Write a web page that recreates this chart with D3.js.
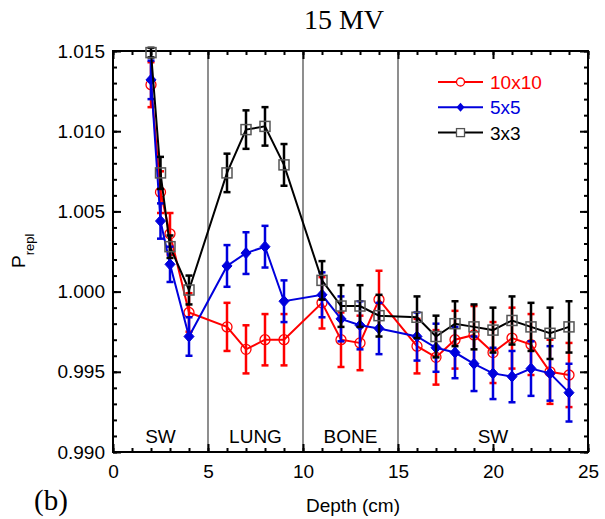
<!DOCTYPE html>
<html><head><meta charset="utf-8">
<script src="https://cdn.jsdelivr.net/npm/d3@7"></script>
<style>body{margin:0;background:#fff}svg{display:block}</style>
</head><body>
<script>
const depth = [2,2.5,3,4,6,7,8,9,11,12,13,14,16,17,18,19,20,21,22,23,24];
const p10 = [1.0129,1.0062,1.0036,0.9987,0.9978,0.9964,0.9970,0.9970,0.9993,0.9970,0.9968,0.9995,0.9966,0.9959,0.9970,0.9973,0.9962,0.9971,0.9967,0.9950,0.9948];
const e10 = [0.0014,0.0013,0.0013,0.0012,0.0015,0.0015,0.0016,0.0016,0.0016,0.0017,0.0017,0.0018,0.0017,0.0017,0.0018,0.0018,0.0019,0.0019,0.0019,0.0020,0.0020];
const p5 = [1.0132,1.0044,1.0017,0.9972,1.0016,1.0024,1.0028,0.9994,0.9998,0.9983,0.9979,0.9977,0.9972,0.9965,0.9962,0.9955,0.9949,0.9947,0.9952,0.9949,0.9937];
const e5 = [0.0012,0.0011,0.0011,0.0012,0.0013,0.0013,0.0013,0.0013,0.0014,0.0014,0.0015,0.0016,0.0015,0.0015,0.0016,0.0017,0.0016,0.0016,0.0017,0.0017,0.0018];
const p3 = [1.0149,1.0074,1.0028,1.0001,1.0074,1.0101,1.0103,1.0079,1.0007,0.9991,0.9991,0.9985,0.9984,0.9972,0.9980,0.9978,0.9976,0.9982,0.9978,0.9974,0.9978];
const e3 = [0.0003,0.0010,0.0007,0.0009,0.0012,0.0012,0.0012,0.0013,0.0012,0.0013,0.0013,0.0013,0.0013,0.0013,0.0014,0.0014,0.0014,0.0015,0.0015,0.0016,0.0016];
const seriesNames = ["10x10","5x5","3x3"];
const seriesColors = ["#ff0000","#0000dd","#000000"];
const regions = [{label:"SW",a:0,b:5},{label:"LUNG",a:5,b:10},{label:"BONE",a:10,b:15},{label:"SW",a:15,b:25}];
const xTicks = [0,5,10,15,20,25];
const yTicks = [0.990,0.995,1.000,1.005,1.010,1.015];

const W=605,H=519;
const L=113,R=588,T=51,B=452;
const svg = d3.select("body").append("svg").attr("width",W).attr("height",H);
const x = d3.scaleLinear([0,25],[L,R]);
const y = d3.scaleLinear([0.990,1.015],[B,T]);
const sans = "Arial, 'Liberation Sans', sans-serif";
const serif = "'Times New Roman', 'Liberation Serif', serif";

// region separators
svg.append("g").selectAll("line").data([5,10,15]).join("line")
  .attr("x1",d=>x(d)).attr("x2",d=>x(d)).attr("y1",T).attr("y2",B)
  .attr("stroke","#444").attr("stroke-width",1.2);
svg.append("g").selectAll("text").data(regions).join("text")
  .attr("x",d=>x((d.a+d.b)/2)).attr("y",443).attr("text-anchor","middle")
  .attr("font-family",sans).attr("font-size",19).text(d=>d.label);

// axes
function styleAxis(g){ g.select(".domain").remove(); g.selectAll(".tick line").attr("stroke","#000").attr("stroke-width",2); g.selectAll("text").attr("font-family",sans).attr("font-size",19).attr("fill","#000"); }
const minorX = d3.range(0,26,1), minorY = d3.range(0,26).map(i=>0.990+i*0.001);
svg.append("g").attr("transform",`translate(0,${B})`).call(d3.axisBottom(x).tickValues(minorX).tickSize(-4).tickFormat("")).call(styleAxis);
svg.append("g").attr("transform",`translate(0,${B})`).call(d3.axisBottom(x).tickValues(xTicks).tickSize(-8).tickPadding(13).tickFormat(d3.format("d"))).call(styleAxis);
svg.append("g").attr("transform",`translate(0,${T})`).call(d3.axisTop(x).tickValues(minorX).tickSize(-4).tickFormat("")).call(styleAxis);
svg.append("g").attr("transform",`translate(0,${T})`).call(d3.axisTop(x).tickValues(xTicks).tickSize(-8).tickFormat("")).call(styleAxis);
svg.append("g").attr("transform",`translate(${L},0)`).call(d3.axisLeft(y).tickValues(minorY).tickSize(-4).tickFormat("")).call(styleAxis);
svg.append("g").attr("transform",`translate(${L},0)`).call(d3.axisLeft(y).tickValues(yTicks).tickSize(-8).tickPadding(8).tickFormat(d3.format(".3f"))).call(styleAxis);
svg.append("g").attr("transform",`translate(${R},0)`).call(d3.axisRight(y).tickValues(minorY).tickSize(-4).tickFormat("")).call(styleAxis);
svg.append("g").attr("transform",`translate(${R},0)`).call(d3.axisRight(y).tickValues(yTicks).tickSize(-8).tickFormat("")).call(styleAxis);
svg.append("rect").attr("x",L).attr("y",T).attr("width",R-L).attr("height",B-T).attr("fill","none").attr("stroke","#000").attr("stroke-width",2);

// series
const series = [
  {name:seriesNames[0],color:seriesColors[0],v:p10,e:e10,sym:"circle"},
  {name:seriesNames[1],color:seriesColors[1],v:p5,e:e5,sym:"diamond"},
  {name:seriesNames[2],color:seriesColors[2],v:p3,e:e3,sym:"square"}
];
function drawMarker(g,sym,color){
  if(sym==="circle") g.append("circle").attr("r",5).attr("fill","none").attr("stroke",color).attr("stroke-width",1.3);
  else if(sym==="diamond") g.append("path").attr("d","M0,-5.5L5,0L0,5.5L-5,0Z").attr("fill",color).attr("stroke",color).attr("stroke-width",1);
  else g.append("rect").attr("x",-5).attr("y",-5).attr("width",10).attr("height",10).attr("fill","none").attr("stroke","#555").attr("stroke-width",1.5);
}
const line = d3.line().x(d=>x(d[0])).y(d=>y(d[1]));
series.forEach(s=>{
  const pts = depth.map((d,i)=>[d,s.v[i],s.e[i]]);
  const g = svg.append("g");
  g.append("path").attr("d",line(pts)).attr("fill","none").attr("stroke",s.color).attr("stroke-width",2);
  const eb = g.append("g").attr("stroke",s.color).attr("stroke-width",2.5);
  pts.forEach(p=>{
    const cx=x(p[0]), y1=y(p[1]+p[2]), y2=y(p[1]-p[2]);
    eb.append("line").attr("x1",cx).attr("x2",cx).attr("y1",y1).attr("y2",y2);
    eb.append("line").attr("x1",cx-3.5).attr("x2",cx+3.5).attr("y1",y1).attr("y2",y1);
    eb.append("line").attr("x1",cx-3.5).attr("x2",cx+3.5).attr("y1",y2).attr("y2",y2);
  });
  pts.forEach(p=>{ const m=g.append("g").attr("transform",`translate(${x(p[0])},${y(p[1])})`); drawMarker(m,s.sym,s.color); });
});

// legend
const leg = svg.append("g");
series.forEach((s,i)=>{
  const yy = 82 + i*25.3;
  leg.append("line").attr("x1",438).attr("x2",483).attr("y1",yy).attr("y2",yy).attr("stroke",s.color).attr("stroke-width",2);
  const m = leg.append("g").attr("transform",`translate(460.5,${yy})`);
  if(s.sym==="circle") m.append("circle").attr("r",4).attr("fill","#fff").attr("stroke",s.color).attr("stroke-width",1.3);
  else if(s.sym==="diamond") m.append("path").attr("d","M0,-4.5L4,0L0,4.5L-4,0Z").attr("fill",s.color);
  else m.append("rect").attr("x",-4).attr("y",-4).attr("width",8).attr("height",8).attr("fill","#fff").attr("stroke","#555").attr("stroke-width",1.3);
  leg.append("text").attr("x",490).attr("y",yy+7).attr("font-family",sans).attr("font-size",19).attr("fill",s.color).text(s.name);
});

// titles
svg.append("text").attr("x",344).attr("y",29).attr("text-anchor","middle").attr("font-family",serif).attr("font-size",28).text("15 MV");
svg.append("text").attr("x",353).attr("y",512).attr("text-anchor","middle").attr("font-family",sans).attr("font-size",19).text("Depth (cm)");
svg.append("text").attr("x",34).attr("y",510).attr("font-family",serif).attr("font-size",29).text("(b)");
const yl = svg.append("text").attr("transform","translate(25,268) rotate(-90)").attr("font-family",sans).attr("font-size",19);
yl.append("tspan").text("P");
yl.append("tspan").attr("font-size",13).attr("dy",9).text("repl");
</script>
</body></html>
